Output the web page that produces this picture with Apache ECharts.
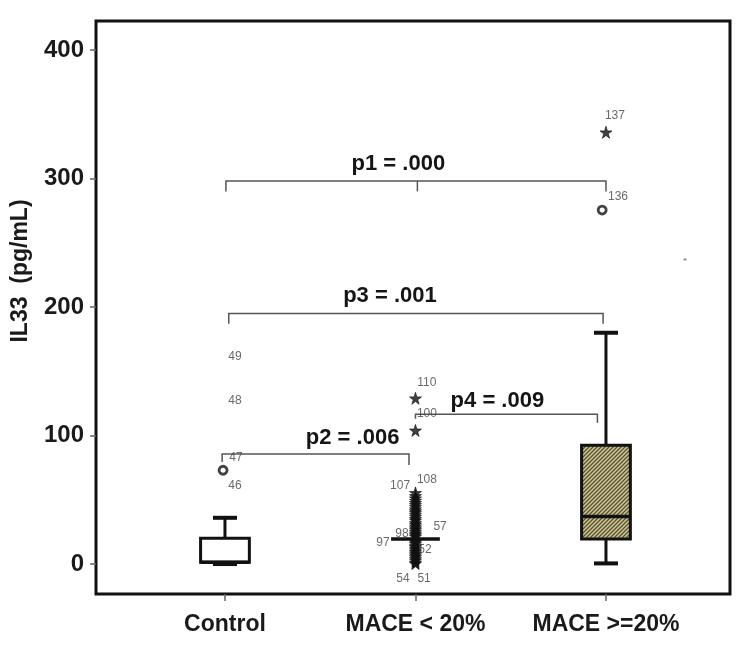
<!DOCTYPE html>
<html>
<head>
<meta charset="utf-8">
<script src="https://cdn.jsdelivr.net/npm/echarts@6/dist/echarts.min.js"></script>
<style>
html,body{margin:0;padding:0;background:#fff;}
#chart{width:739px;height:649px;}
</style>
</head>
<body>
<div id="chart"></div>
<script>
// ---------- data ----------
const categories = ['Control', 'MACE < 20%', 'MACE >=20%'];
const yTicks = [0, 100, 200, 300, 400];
const yTitle = 'IL33  (pg/mL)';
const whiskerLow  = [0, 19.5, 0.5];
const boxQ1       = [1.5, 19.5, 19.5];
const boxMedian   = [1.5, 19.5, 37];
const boxQ3       = [20, 19.5, 92.5];
const whiskerHigh = [36, 19.5, 180];

// outliers (circles)
const circleGroup = [-0.01, 1.98];
const circleValue = [73, 275.5];

// extremes (stars)
const starGroup = [1,1,1,1,1,1,1,1,1,1,1,1,1,1,1,1,1,1,1,1,1,1,1,1,1,1,1,1,1,1,1,1,1,1,1,1,1,1,1,1,2];
const starValue = [0.4, 1.2, 2.8, 4.1, 5.6, 6.9, 8.3, 9.5, 10.8, 12.1, 13.4, 14.2, 15.7, 16.9, 18.1,
                   21.3, 22.6, 23.8, 25.2, 26.7, 27.9, 29.4, 30.8, 32.1, 33.9, 35.2, 36.8, 38.3, 39.9,
                   41.2, 42.7, 44.5, 46.1, 47.6, 49.3, 51.2, 53.0, 55.4, 104, 129, 336];

// case-number labels
const caseLabel = ['49','48','47','46','110','100','107','108','57','98','97','52','54','51','137','136'];
const caseGroup = [0.052, 0.052, 0.058, 0.052, 1.06, 1.06, 0.919, 1.06, 1.129, 0.929, 0.829, 1.05, 0.934, 1.045, 2.047, 2.063];
const caseValue = [161, 127, 83, 61, 141, 117, 60.7, 66, 28.8, 24, 16.3, 11, -11, -11, 349, 286];

// stray mark
const strayGroup = [2.415];
const strayValue = [237];

// significance brackets
const bracketText  = ['p1 = .000', 'p3 = .001', 'p2 = .006', 'p4 = .009'];
const bracketLeft  = [0.005, 0.02, -0.015, 1.0];
const bracketRight = [2.0, 1.985, 0.966, 1.955];
const bracketLevel = [298, 195, 85.6, 116.5];
const bracketLeftEnd  = [290, 187, 79.4, 113];
const bracketRightEnd = [290, 187, 77, 110];
const bracketMid   = [1.01, null, null, null];
const bracketMidEnd = [290, null, null, null];
const textGroup = [0.91, 0.866, 0.67, 1.43];
const textValue = [311, 208.5, 98, 127];

// ---------- chart ----------
const chart = echarts.init(document.getElementById('chart'));

// hatch pattern for 3rd box
const pc = document.createElement('canvas');
pc.width = 4; pc.height = 4;
const pctx = pc.getContext('2d');
pctx.fillStyle = '#d0c898';
pctx.fillRect(0, 0, 4, 4);
pctx.strokeStyle = '#5a5433';
pctx.lineWidth = 1.4;
pctx.beginPath();
pctx.moveTo(-1, 5); pctx.lineTo(5, -1);
pctx.moveTo(-1, 1); pctx.lineTo(1, -1);
pctx.moveTo(3, 5); pctx.lineTo(5, 3);
pctx.stroke();
const hatch = { image: pc, repeat: 'repeat' };

const boxData = categories.map((c, i) => [i, whiskerLow[i], boxQ1[i], boxMedian[i], boxQ3[i], whiskerHigh[i]]);
const fills = ['#ffffff', '#ffffff', hatch];

const starPath = 'path://M50,0 L61,35 L98,35 L68,57 L79,91 L50,70 L21,91 L32,57 L2,35 L39,35 Z';

const bracketData = bracketText.map((t, i) => [bracketLeft[i], bracketRight[i], bracketLevel[i], bracketLeftEnd[i], bracketRightEnd[i], bracketMid[i], bracketMidEnd[i]]);

chart.setOption({
  animation: false,
  backgroundColor: '#ffffff',
  grid: { left: 96, right: 9, top: 21, bottom: 55, show: true, borderColor: '#111', borderWidth: 3, backgroundColor: 'transparent' },
  graphic: [{
    type: 'text', x: 21, y: 271, rotation: Math.PI / 2,
    style: { text: yTitle, align: 'center', verticalAlign: 'middle',
      font: 'bold 23px "Liberation Sans", Arial, sans-serif', fill: '#1a1a1a' }
  }],
  xAxis: {
    type: 'value', min: -0.677, max: 2.651,
    splitLine: { show: false },
    axisLine: { show: false, onZero: false },
    axisTick: { show: true, customValues: [0, 1, 2], length: 7, lineStyle: { color: '#666', width: 1.5 } },
    axisLabel: {
      customValues: [0, 1, 2],
      formatter: v => categories[Math.round(v)] || '',
      fontFamily: 'Liberation Sans, Arial, sans-serif', fontWeight: 'bold', fontSize: 23, color: '#1a1a1a', margin: 19
    }
  },
  yAxis: {
    type: 'value', min: -23.3, max: 422.6,
    splitLine: { show: false },
    axisLine: { show: false, onZero: false },
    axisTick: { show: true, customValues: yTicks, length: 6, lineStyle: { color: '#666', width: 1.5 } },
    axisLabel: {
      customValues: yTicks,
      fontFamily: 'Liberation Sans, Arial, sans-serif', fontWeight: 'bold', fontSize: 24, color: '#1a1a1a', margin: 12
    }
  },
  series: [
    {
      type: 'custom',
      data: bracketData,
      z: 2,
      renderItem: function (params, api) {
        const l = api.value(0), r = api.value(1), y = api.value(2);
        const pL = api.coord([l, y]), pR = api.coord([r, y]);
        const pLe = api.coord([l, api.value(3)]), pRe = api.coord([r, api.value(4)]);
        const ls = { stroke: '#555', lineWidth: 1.5, fill: null };
        const children = [
          { type: 'polyline', shape: { points: [pLe, pL, pR, pRe] }, style: ls }
        ];
        const m = bracketData[params.dataIndex][5];
        if (m !== null) {
          const a = api.coord([m, y]), b = api.coord([m, bracketData[params.dataIndex][6]]);
          children.push({ type: 'line', shape: { x1: a[0], y1: a[1], x2: b[0], y2: b[1] }, style: ls });
        }
        const tp = api.coord([textGroup[params.dataIndex], textValue[params.dataIndex]]);
        children.push({ type: 'text', x: tp[0], y: tp[1], style: {
          text: bracketText[params.dataIndex], align: 'center', verticalAlign: 'middle',
          font: 'bold 22px "Liberation Sans", Arial, sans-serif', fill: '#151515' } });
        return { type: 'group', children: children };
      }
    },
    {
      type: 'custom',
      data: boxData,
      z: 3,
      renderItem: function (params, api) {
        const x = api.value(0);
        const lo = api.coord([x, api.value(1)]);
        const q1 = api.coord([x, api.value(2)]);
        const md = api.coord([x, api.value(3)]);
        const q3 = api.coord([x, api.value(4)]);
        const hi = api.coord([x, api.value(5)]);
        const hw = api.size([0.128, 0])[0];
        const cw = api.size([0.063, 0])[0];
        const cx = lo[0];
        const ls = { stroke: '#111', lineWidth: 3, fill: null };
        const children = [];
        if (hi[1] < q3[1]) {
          children.push({ type: 'line', shape: { x1: cx, y1: hi[1], x2: cx, y2: q3[1] }, style: ls });
          children.push({ type: 'line', shape: { x1: cx - cw, y1: hi[1], x2: cx + cw, y2: hi[1] }, style: { stroke: '#111', lineWidth: 4 } });
        }
        if (lo[1] > q1[1] + 0.1) {
          children.push({ type: 'line', shape: { x1: cx, y1: q1[1], x2: cx, y2: lo[1] }, style: ls });
          children.push({ type: 'line', shape: { x1: cx - cw, y1: lo[1], x2: cx + cw, y2: lo[1] }, style: { stroke: '#111', lineWidth: 4 } });
        }
        if (q1[1] - q3[1] > 1) {
          children.push({ type: 'rect', shape: { x: cx - hw, y: q3[1], width: 2 * hw, height: q1[1] - q3[1] },
            style: { fill: fills[params.dataIndex], stroke: '#111', lineWidth: 3 } });
        }
        children.push({ type: 'line', shape: { x1: cx - hw, y1: md[1], x2: cx + hw, y2: md[1] }, style: { stroke: '#111', lineWidth: 3.5 } });
        return { type: 'group', children: children };
      }
    },
    {
      type: 'scatter',
      z: 4,
      symbol: starPath,
      symbolSize: 12,
      itemStyle: { color: '#111', borderColor: '#111', borderWidth: 0.8 },
      data: starGroup.map((g, i) => [g, starValue[i]])
    },
    {
      type: 'scatter',
      z: 4,
      symbol: 'circle',
      symbolSize: 8,
      itemStyle: { color: '#fff', borderColor: '#111', borderWidth: 2.8 },
      data: circleGroup.map((g, i) => [g, circleValue[i]])
    },
    {
      type: 'scatter',
      z: 5,
      symbolSize: 0,
      data: caseGroup.map((g, i) => [g, caseValue[i], caseLabel[i]]),
      label: {
        show: true, position: 'inside',
        formatter: p => p.data[2],
        fontFamily: 'Liberation Sans Narrow, Liberation Sans, Arial, sans-serif',
        fontSize: 12, color: '#444'
      }
    },
    {
      type: 'scatter',
      z: 4,
      symbol: 'rect',
      symbolSize: [3, 2],
      itemStyle: { color: '#777' },
      data: strayGroup.map((g, i) => [g, strayValue[i]])
    }
  ]
});
</script>
</body>
</html>
